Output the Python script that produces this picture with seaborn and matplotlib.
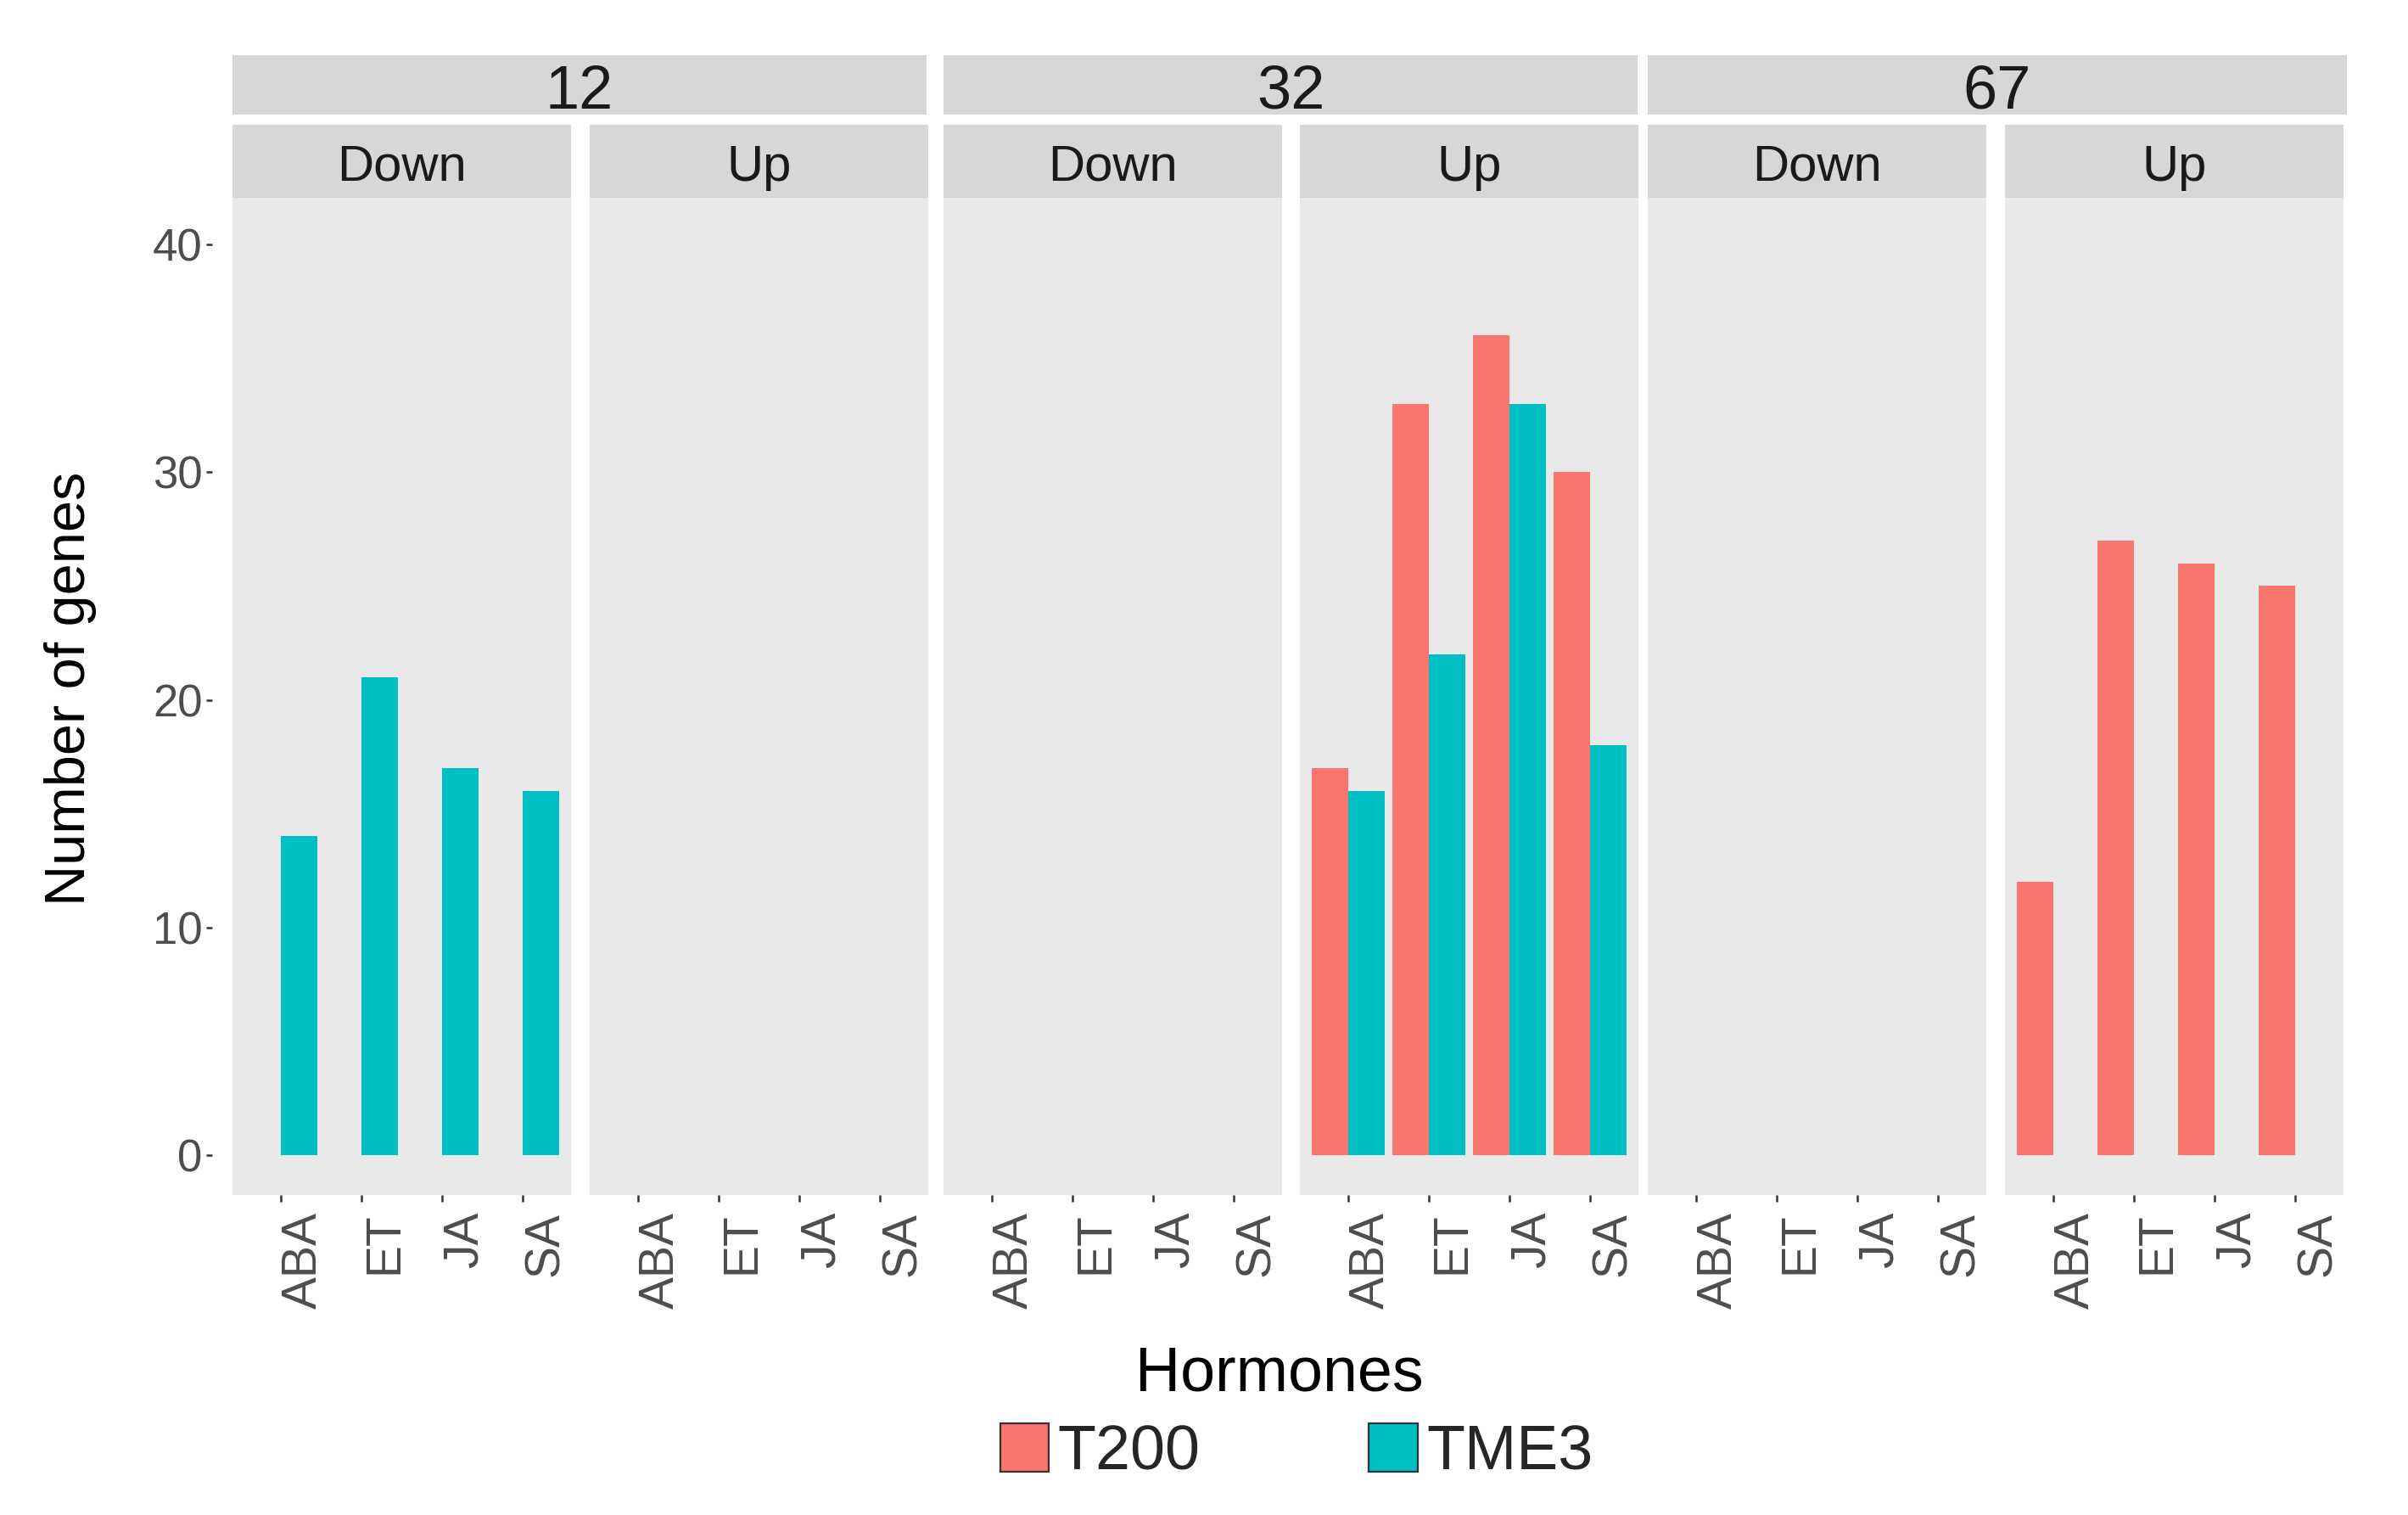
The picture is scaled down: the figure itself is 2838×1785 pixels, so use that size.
import matplotlib
matplotlib.use("Agg")
import matplotlib.pyplot as plt
from matplotlib.patches import Patch
import numpy as np
import pandas as pd
import seaborn as sns

# categories
hormones = ["ABA", "ET", "JA", "SA"]
genotypes = ["T200", "TME3"]
times = ["12", "32", "67"]
directions = ["Down", "Up"]

# number of genes per hormone (ABA, ET, JA, SA); nan = no bar
t200_12_down = [np.nan, np.nan, np.nan, np.nan]
tme3_12_down = [14, 21, 17, 16]
t200_12_up = [np.nan, np.nan, np.nan, np.nan]
tme3_12_up = [np.nan, np.nan, np.nan, np.nan]
t200_32_down = [np.nan, np.nan, np.nan, np.nan]
tme3_32_down = [np.nan, np.nan, np.nan, np.nan]
t200_32_up = [17, 33, 36, 30]
tme3_32_up = [16, 22, 33, 18]
t200_67_down = [np.nan, np.nan, np.nan, np.nan]
tme3_67_down = [np.nan, np.nan, np.nan, np.nan]
t200_67_up = [12, 27, 26, 25]
tme3_67_up = [np.nan, np.nan, np.nan, np.nan]

y_ticks = [0, 10, 20, 30, 40]

series = {
    ("12", "Down", "T200"): t200_12_down, ("12", "Down", "TME3"): tme3_12_down,
    ("12", "Up", "T200"): t200_12_up, ("12", "Up", "TME3"): tme3_12_up,
    ("32", "Down", "T200"): t200_32_down, ("32", "Down", "TME3"): tme3_32_down,
    ("32", "Up", "T200"): t200_32_up, ("32", "Up", "TME3"): tme3_32_up,
    ("67", "Down", "T200"): t200_67_down, ("67", "Down", "TME3"): tme3_67_down,
    ("67", "Up", "T200"): t200_67_up, ("67", "Up", "TME3"): tme3_67_up,
}
rows = []
for (t, d, g), vals in series.items():
    for h, v in zip(hormones, vals):
        rows.append({"time": t, "direction": d, "genotype": g, "hormone": h, "genes": v})
df = pd.DataFrame(rows)
df["genes"] = df["genes"].fillna(0)

palette = {"T200": "#F8766D", "TME3": "#00BFC4"}
panel_bg = "#E9E9E9"
strip_bg = "#D7D7D7"

sns.set_style("white")
plt.rcParams["font.family"] = ["Liberation Sans", "DejaVu Sans"]

W, H, DPI = 2838, 1785, 200
fig = plt.figure(figsize=(W / DPI, H / DPI), dpi=DPI)


def fx(px):
    return px / W


def fy(py):
    return 1 - py / H


panel_left = [274, 695, 1112, 1532, 1942, 2363]
panel_w = 399
top, bottom = 233, 1408

i = 0
for t in times:
    for d in directions:
        ax = fig.add_axes([fx(panel_left[i]), fy(bottom), panel_w / W, (bottom - top) / H])
        sub = df[(df.time == t) & (df.direction == d)]
        sns.barplot(data=sub, x="hormone", y="genes", hue="genotype", order=hormones,
                    hue_order=genotypes, palette=palette, width=0.9, saturation=1,
                    errorbar=None, linewidth=0, legend=False, ax=ax)
        ax.set_facecolor(panel_bg)
        ax.grid(False)
        ax.set_xlim(-0.6, 3.6)
        ax.set_ylim(-1.75, 42.05)
        ax.set_xlabel("")
        ax.set_ylabel("")
        for s in ax.spines.values():
            s.set_visible(False)
        ax.tick_params(axis="x", bottom=True, length=2.9, width=0.9, color="#333333",
                       pad=4.3, labelsize=20.5, labelcolor="#4D4D4D")
        for lab in ax.get_xticklabels():
            lab.set_rotation(90)
            lab.set_ha("left")
        if i == 0:
            ax.set_yticks(y_ticks)
            ax.spines["left"].set_position(("outward", 8.6))
            ax.tick_params(axis="y", left=True, length=2.7, width=0.9, color="#333333",
                           pad=1.5, labelsize=19, labelcolor="#4D4D4D")
        else:
            ax.tick_params(axis="y", left=False, labelleft=False)
        i += 1


def strip(x0, x1, y0, y1, label, size, base):
    sax = fig.add_axes([fx(x0), fy(y1), (x1 - x0) / W, (y1 - y0) / H])
    sax.set_facecolor(strip_bg)
    sax.set_xticks([])
    sax.set_yticks([])
    for s in sax.spines.values():
        s.set_visible(False)
    sax.text(0.5, base, label, ha="center", va="baseline", fontsize=size,
             color="#1A1A1A", transform=sax.transAxes)


# top strips (time)
strip(274, 1092, 65, 135, "12", 26, 0.1)
strip(1112, 1930, 65, 135, "32", 26, 0.1)
strip(1942, 2766, 65, 135, "67", 26, 0.1)
# second strips (direction)
for k in range(6):
    strip(panel_left[k], panel_left[k] + panel_w, 147, 233, directions[k % 2], 21.5, 0.233)

fig.text(fx(100), 0.5457, "Number of genes", rotation=90, rotation_mode="anchor",
         ha="center", va="baseline", fontsize=24, color="black")
fig.text(fx(1508), fy(1638), "Hormones", ha="center", va="baseline", fontsize=26.5,
         color="black")

handles = [Patch(facecolor=palette[g], edgecolor="#333333", linewidth=0.8, label=g)
           for g in genotypes]
fig.legend(handles=handles, loc="center", bbox_to_anchor=(0.5384, 0.041), ncol=2,
           frameon=False, fontsize=26.5, handlelength=0.78, handleheight=0.82,
           handletextpad=0.14, columnspacing=2.7)

fig.savefig("out.png", dpi=DPI)
